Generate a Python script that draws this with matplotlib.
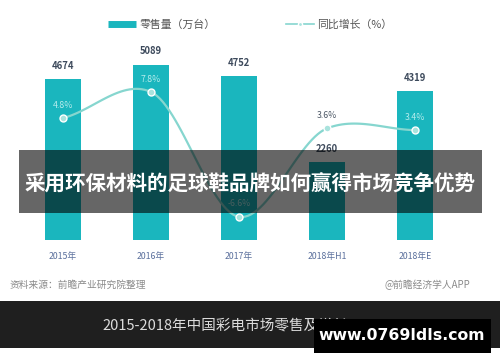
import numpy as np
import matplotlib
matplotlib.use("Agg")
import matplotlib.pyplot as plt
from matplotlib.patches import Rectangle
from matplotlib.lines import Line2D

plt.rcParams['font.family'] = ['Noto Sans CJK SC', 'DejaVu Sans']

categories = ["2015年", "2016年", "2017年", "2018年H1", "2018年E"]
sales = [4674, 5089, 4752, 2260, 4319]
growth = [4.8, 7.8, -6.6, 3.6, 3.4]
growth_labels = ["4.8%", "7.8%", "-6.6%", "3.6%", "3.4%"]
legend_labels = ["零售量（万台）", "同比增长（%）"]
overlay_title = "采用环保材料的足球鞋品牌如何赢得市场竞争优势"
caption = "2015-2018年中国彩电市场零售及增长"
source_left = "资料来源：前瞻产业研究院整理"
source_right = "@前瞻经济学人APP"
site = "www.0769ldls.com"

W, H = 500, 362
fig = plt.figure(figsize=(W / 100, H / 100), dpi=100)
fig.patch.set_facecolor("white")

def fy(px):  # pixel from top -> figure fraction
    return 1 - px / H

bar_color = "#1ab6be"
line_color = "#86d6cf"

# axes: baseline at y=240 px, top at 40 px
ax = fig.add_axes([0, fy(240), 1, (240 - 40) / H])
ax.set_xlim(-63 / 88, (500 - 63) / 88)
ax.set_ylim(0, 200 / 0.03445)
x = np.arange(len(categories))
bars = ax.bar(x, sales, width=36 / 88, color=bar_color, zorder=2)
for xi, v in zip(x, sales):
    ax.annotate(str(v), (xi, v), xytext=(0, 6), textcoords="offset points",
                ha="center", va="bottom", fontsize=6.8, color="#3d4a5c",
                fontweight="bold")
ax.set_xticks(x)
ax.set_xticklabels(categories, fontsize=6.3, color="#5a6f9c")
ax.tick_params(axis="x", length=0, pad=9)
ax.set_yticks([])
for s in ax.spines.values():
    s.set_visible(False)
ax.patch.set_alpha(0)

ax2 = ax.twinx()
ax2.set_ylim(-80.4 / 8.67, 119.6 / 8.67)
ax2.set_yticks([])
for s in ax2.spines.values():
    s.set_visible(False)

# smooth curve through points (cubic Hermite rendering of the series)
gx = np.array(x, dtype=float)
gy = np.array(growth, dtype=float)
xs_all, ys_all = [], []
n = len(gx)
for i in range(n - 1):
    p0 = gy[i - 1] if i > 0 else gy[i]
    p1, p2 = gy[i], gy[i + 1]
    p3 = gy[i + 2] if i + 2 < n else gy[i + 1]
    m1 = (p2 - p0) / (2 if i > 0 else 1) * 0.8
    m2 = (p3 - p1) / (2 if i + 2 < n else 1) * 0.8
    t = np.linspace(0, 1, 30)
    h00 = 2 * t**3 - 3 * t**2 + 1
    h10 = t**3 - 2 * t**2 + t
    h01 = -2 * t**3 + 3 * t**2
    h11 = t**3 - t**2
    xs_all.append(gx[i] + t)
    ys_all.append(h00 * p1 + h10 * m1 + h01 * p2 + h11 * m2)
ax2.plot(np.concatenate(xs_all), np.concatenate(ys_all), color=line_color, lw=1.6, zorder=3)
ax2.plot(gx, gy, "o", ms=5, mfc="#a9e3dd", mec="white", mew=1.0, zorder=4)
lab_colors = ["#b5ecec", "#b5ecec", "#b5ecec", "#4d5866", "#b5ecec"]
for xi, yi, lab, c in zip(gx, gy, growth_labels, lab_colors):
    ax2.annotate(lab, (xi, yi), xytext=(0, 6), textcoords="offset points",
                 ha="center", va="bottom", fontsize=6.3, color=c)

# legend
h1 = Line2D([], [], color=bar_color, lw=5, solid_capstyle="butt")
h2 = Line2D([], [], color=line_color, lw=1.2, marker="o", ms=3, mfc="#a9e3dd", mec="white")
fig.legend([h1, h2], legend_labels, loc="center", bbox_to_anchor=(0.5, fy(25)),
           ncol=2, frameon=False, fontsize=7.8, labelcolor="#555555",
           handlelength=2.6, handletextpad=0.3, columnspacing=6.5)

# source lines
fig.text(10 / W, fy(285), source_left, fontsize=7, color="#8a8a8a", style="italic",
         ha="left", va="center")
fig.text(470 / W, fy(285), source_right, fontsize=7, color="#8a8a8a",
         ha="right", va="center")

# bottom dark band
fig.patches.append(Rectangle((0, fy(348)), 1, (348 - 301) / H, transform=fig.transFigure,
                             facecolor="#1f1f1f", edgecolor="none", zorder=5))
fig.text(225 / W, fy(325), caption, fontsize=10.5, color="#dcdcdc",
         ha="center", va="center", zorder=6)

# overlay band
fig.patches.append(Rectangle((19 / W, fy(213)), (482 - 19) / W, (213 - 150) / H,
                             transform=fig.transFigure, facecolor="black", alpha=0.6,
                             edgecolor="none", zorder=10))
fig.text(250 / W, fy(184), overlay_title, fontsize=14.8, color="white", fontweight="bold",
         ha="center", va="center", zorder=11)

# site watermark
fig.patches.append(Rectangle((314 / W, fy(353)), (491 - 314) / W, (353 - 319) / H,
                             transform=fig.transFigure, facecolor="black",
                             edgecolor="none", zorder=12))
fig.text(402 / W, fy(336), site, fontsize=11.3, color="white", fontweight="bold",
         ha="center", va="center", zorder=13, family="DejaVu Sans")

fig.savefig("out.png", dpi=100, facecolor="white")
